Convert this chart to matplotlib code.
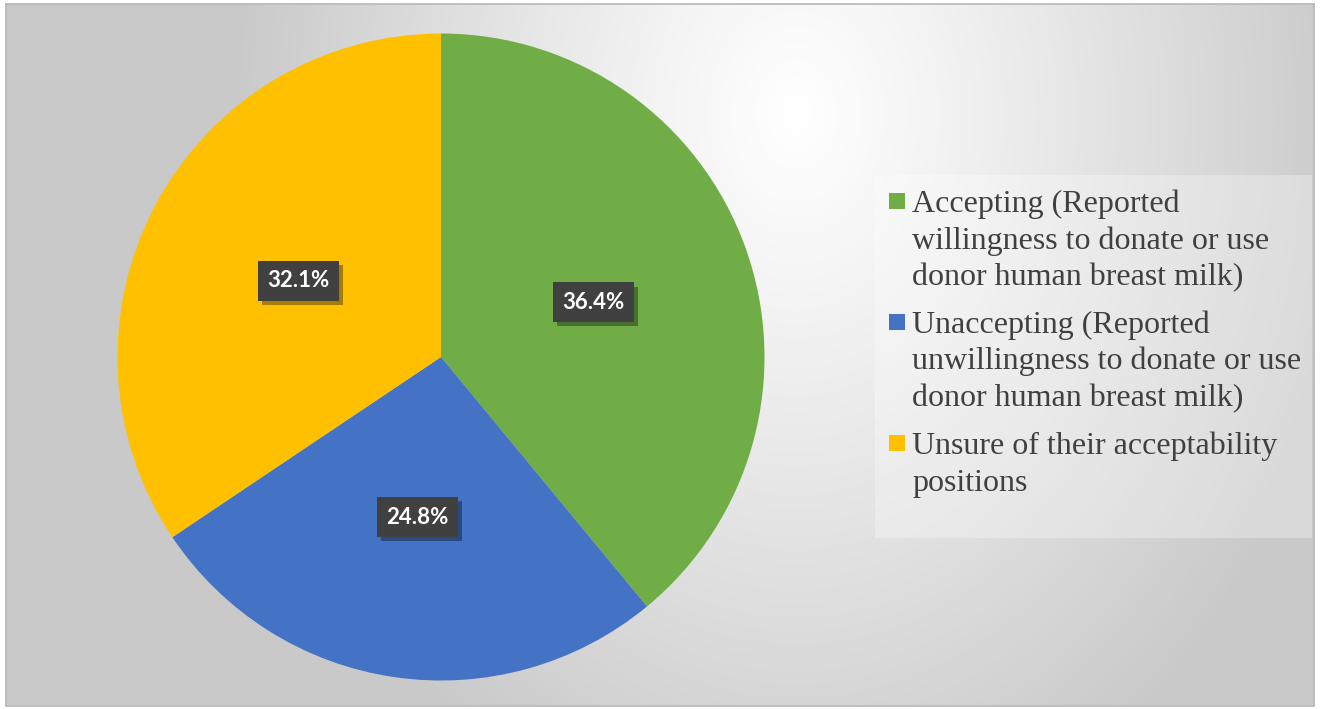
import matplotlib.pyplot as plt
import numpy as np
from matplotlib.patches import Rectangle
import matplotlib.patheffects as pe

# data
categories = [
    ["Accepting (Reported", "willingness to donate or use", "donor human breast milk)"],
    ["Unaccepting (Reported", "unwillingness to donate or use", "donor human breast milk)"],
    ["Unsure of their acceptability", "positions"],
]
values = [36.4, 24.8, 32.1]
colors = ["#70AD47", "#4472C4", "#FFC000"]

W, H = 1320, 709
fig = plt.figure(figsize=(W / 100, H / 100), dpi=100, facecolor="white")

# background panel with soft radial gradient
bg = fig.add_axes([6 / W, 3 / H, 1308 / W, 702 / H])
yy, xx = np.mgrid[0:702, 0:1308]
d = np.sqrt(((xx - 790) / 560.0) ** 2 + ((yy - 110) / 760.0) ** 2)
shade = 1.0 - 0.21 * np.clip(d, 0, 1) ** 1.1
bg.imshow(np.dstack([shade] * 3), aspect="auto", extent=[0, 1308, 702, 0])
bg.set_xticks([])
bg.set_yticks([])
for s in bg.spines.values():
    s.set_color("#b8b8b8")
    s.set_linewidth(1.2)

# pie
R = 323.5
half = 340
cx, cy = 441, H - 357
ax = fig.add_axes([(cx - half) / W, (cy - half) / H, 2 * half / W, 2 * half / H])

total = sum(values)
wedges, texts, autotexts = ax.pie(
    values, colors=colors, startangle=90, counterclock=False,
    autopct=lambda p: f"{p * total / 100:.1f}%", pctdistance=0.5,
    wedgeprops=dict(linewidth=0),
    textprops=dict(color="white", fontsize=16, fontweight="bold", family="Lato"),
)
ax.set_xlim(-half / R, half / R)
ax.set_ylim(-half / R, half / R)
ax.set_aspect("equal")
ax.axis("off")
for t in autotexts:
    t.set_bbox(dict(boxstyle="square,pad=0.42", facecolor="#404040", edgecolor="none"))
    t.get_bbox_patch().set_path_effects(
        [pe.SimplePatchShadow(offset=(3, -3), shadow_rgbFace="black", alpha=0.35), pe.Normal()])

# legend
fig.add_artist(Rectangle((875 / W, (H - 538) / H), 437 / W, 363 / H, transform=fig.transFigure,
                         facecolor="white", alpha=0.3, edgecolor="none"))
base = 212
for lines, col in zip(categories, colors):
    fig.add_artist(Rectangle((889 / W, (H - base + 3) / H), 16 / W, 16 / H,
                             transform=fig.transFigure, facecolor=col, edgecolor="none"))
    for k, line in enumerate(lines):
        fig.text(912 / W, (H - base - k * 36.5) / H, line, ha="left", va="baseline",
                 fontsize=23, family="Liberation Serif", color="#404040")
    base += len(lines) * 36.5 + 11.5

fig.savefig("out.png", dpi=100, facecolor="white")
